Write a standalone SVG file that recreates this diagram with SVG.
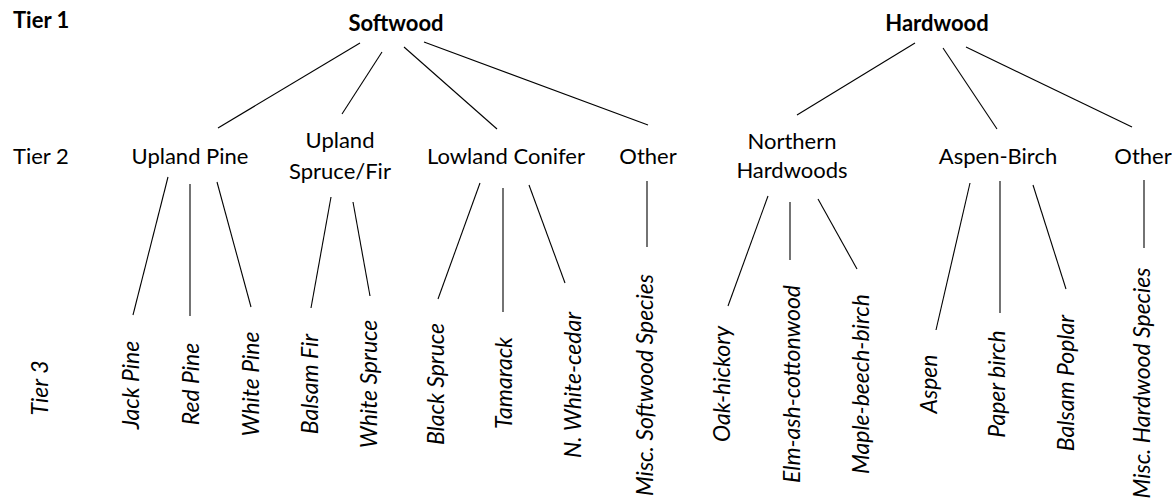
<svg xmlns="http://www.w3.org/2000/svg" width="1172" height="502" viewBox="0 0 1172 502">
<style>
text{font-family:Lato,"Open Sans","Liberation Sans",sans-serif;fill:#000;font-size:22px}
.b{font-weight:bold}
.t2{text-anchor:middle}
.t3{text-anchor:middle;font-style:italic;font-size:23px}
.tier{text-anchor:start}
line{stroke:#000;stroke-width:1.1}
</style>
<rect width="1172" height="502" fill="#fff"/>
<g id="tiers">
<text class="tier b" x="13" y="28">Tier 1</text>
<text class="tier" x="13" y="164">Tier 2</text>
<text class="t3" transform="translate(48,388) rotate(-90)">Tier 3</text>
</g>
<g id="connectors">
<line x1="360" y1="43" x2="218" y2="128"/>
<line x1="382" y1="52" x2="342" y2="114"/>
<line x1="404" y1="47" x2="497" y2="129"/>
<line x1="424" y1="42" x2="648" y2="125"/>
<line x1="915" y1="43" x2="797" y2="115"/>
<line x1="943" y1="48" x2="997" y2="129"/>
<line x1="966" y1="47" x2="1132" y2="127"/>
<line x1="168" y1="177" x2="133" y2="315"/>
<line x1="190" y1="184" x2="190" y2="316"/>
<line x1="217" y1="182" x2="251" y2="307"/>
<line x1="331" y1="197" x2="311" y2="308"/>
<line x1="353" y1="202" x2="370" y2="296"/>
<line x1="480" y1="183" x2="438" y2="299"/>
<line x1="503" y1="188" x2="503" y2="312"/>
<line x1="529" y1="185" x2="565" y2="283"/>
<line x1="647" y1="181" x2="647" y2="247"/>
<line x1="768" y1="196" x2="728" y2="306"/>
<line x1="790" y1="202" x2="790" y2="260"/>
<line x1="818" y1="199" x2="857" y2="269"/>
<line x1="970" y1="183" x2="936" y2="330"/>
<line x1="1000" y1="181" x2="1000" y2="313"/>
<line x1="1033" y1="185" x2="1066" y2="289"/>
<line x1="1144" y1="180" x2="1144" y2="248"/>
</g>
<g id="softwood"><text class="t2 b" x="396" y="31">Softwood</text></g>
<g id="hardwood"><text class="t2 b" x="937" y="31">Hardwood</text></g>
<g id="upland-pine"><text class="t2" x="190" y="164">Upland Pine</text></g>
<g id="upland-spruce-fir"><text class="t2" x="340" y="148">Upland</text><text class="t2" x="340" y="179">Spruce/Fir</text></g>
<g id="lowland-conifer"><text class="t2" x="506" y="164">Lowland Conifer</text></g>
<g id="other-softwood"><text class="t2" x="648" y="164">Other</text></g>
<g id="northern-hardwoods"><text class="t2" x="792" y="149">Northern</text><text class="t2" x="792" y="178">Hardwoods</text></g>
<g id="aspen-birch"><text class="t2" x="998" y="164">Aspen-Birch</text></g>
<g id="other-hardwood"><text class="t2" x="1143" y="164">Other</text></g>
<g id="jack-pine"><text class="t3" transform="translate(139,385) rotate(-90)">Jack Pine</text></g>
<g id="red-pine"><text class="t3" transform="translate(199,384) rotate(-90)">Red Pine</text></g>
<g id="white-pine"><text class="t3" transform="translate(259,384) rotate(-90)">White Pine</text></g>
<g id="balsam-fir"><text class="t3" transform="translate(318,384) rotate(-90)">Balsam Fir</text></g>
<g id="white-spruce"><text class="t3" transform="translate(377,384) rotate(-90)">White Spruce</text></g>
<g id="black-spruce"><text class="t3" transform="translate(444,384) rotate(-90)">Black Spruce</text></g>
<g id="tamarack"><text class="t3" transform="translate(512,383) rotate(-90)">Tamarack</text></g>
<g id="n-white-cedar"><text class="t3" transform="translate(581,385) rotate(-90)">N. White-cedar</text></g>
<g id="misc-softwood"><text class="t3" transform="translate(653,385) rotate(-90)">Misc. Softwood Species</text></g>
<g id="oak-hickory"><text class="t3" transform="translate(730,384) rotate(-90)">Oak-hickory</text></g>
<g id="elm-ash-cottonwood"><text class="t3" transform="translate(800,384) rotate(-90)">Elm-ash-cottonwood</text></g>
<g id="maple-beech-birch"><text class="t3" transform="translate(869,384) rotate(-90)">Maple-beech-birch</text></g>
<g id="aspen"><text class="t3" transform="translate(937,384) rotate(-90)">Aspen</text></g>
<g id="paper-birch"><text class="t3" transform="translate(1005,384) rotate(-90)">Paper birch</text></g>
<g id="balsam-poplar"><text class="t3" transform="translate(1074,383) rotate(-90)">Balsam Poplar</text></g>
<g id="misc-hardwood"><text class="t3" transform="translate(1150,383) rotate(-90)">Misc. Hardwood Species</text></g>
</svg>
